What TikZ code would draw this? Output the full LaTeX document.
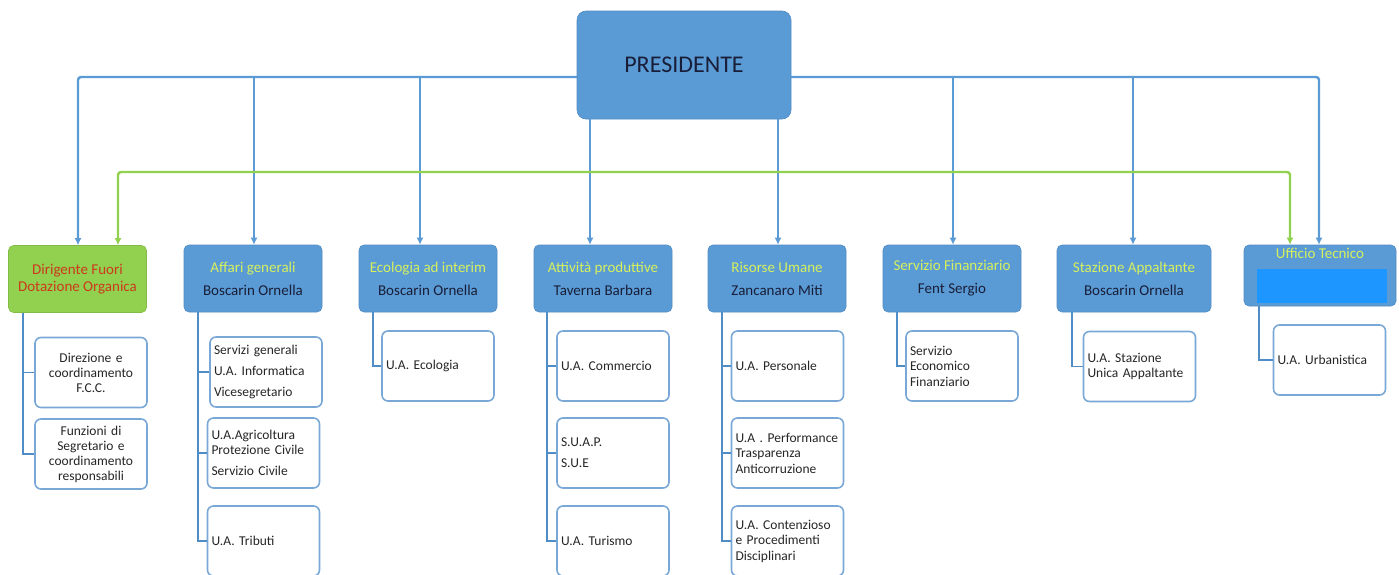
\documentclass[tikz,border=0pt]{standalone}
\usepackage{fontspec}
\setmainfont{Carlito}
\usetikzlibrary{positioning,arrows.meta,calc,backgrounds}
\definecolor{ocBlue}{RGB}{91,155,213}
\definecolor{ocEdge}{RGB}{80,140,198}
\definecolor{ocGreen}{RGB}{146,208,80}
\definecolor{ocLime}{RGB}{214,240,92}
\definecolor{ocRed}{RGB}{204,58,28}
\definecolor{ocNavy}{RGB}{24,30,56}
\definecolor{ocFrame}{RGB}{122,168,214}
\definecolor{ocSky}{RGB}{30,150,255}
\tikzset{
    base/.style={font=\fontsize{15}{18}\selectfont, align=center, inner sep=2pt},
    chief/.style={base, rectangle, rounded corners=9pt, fill=ocBlue, draw=ocEdge, line width=0.6pt,
                  text=ocNavy, minimum width=214pt, minimum height=108pt, font=\fontsize{24}{28}\selectfont},
    head/.style={base, rectangle, rounded corners=5pt, fill=ocBlue, draw=ocEdge, line width=0.6pt,
                 text=ocNavy, minimum width=138pt, minimum height=67pt},
    extra/.style={head, fill=ocGreen, draw=ocGreen!90!black, text=ocRed, font=\fontsize{15}{16.5}\selectfont},
    office/.style={base, rectangle, rounded corners=6pt, draw=ocFrame, line width=1.6pt, fill=white,
                   minimum width=112pt, minimum height=70pt, text width=104pt, align=left,
                   inner xsep=3pt, text=black!85, font=\fontsize{13.5}{15.5}\selectfont},
    flow/.style={->, >={Latex[length=7pt,width=7pt]}, line width=2.4pt, color=ocBlue},
    gflow/.style={flow, color=ocGreen},
    branch/.style={line width=1.8pt, color=ocEdge}
}

\begin{document}
\begin{tikzpicture}[x=1pt, y=-1pt]
  \useasboundingbox (0,0) rectangle (1399,574);
  \clip (0,0) rectangle (1399,574);

  % President
  \node[chief] (pres) at (684,65) {PRESIDENTE};

  % Sectors
  \node[extra] (dir) at (77.5,279) {Dirigente Fuori\\Dotazione Organica};
  \node[head] (aff) at (253,278.5) {\textcolor{ocLime}{Affari generali}\\[5pt]Boscarin Ornella};
  \node[head] (eco) at (428,278.5) {\textcolor{ocLime}{Ecologia ad interim}\\[5pt]Boscarin Ornella};
  \node[head] (att) at (603,278.5) {\textcolor{ocLime}{Attività produttive}\\[5pt]Taverna Barbara};
  \node[head] (ris) at (777,278.5) {\textcolor{ocLime}{Risorse Umane}\\[5pt]Zancanaro Miti};
  \node[head] (fin) at (952,278.5) {\textcolor{ocLime}{Servizio Finanziario}\\[5pt]Fent Sergio};
  \node[head, minimum width=154pt] (sta) at (1134,278.5) {\textcolor{ocLime}{Stazione Appaltante}\\[5pt]Boscarin Ornella};
  \node[head, minimum width=152pt, minimum height=61pt,
        label={[text=ocLime, anchor=north, font=\fontsize{15}{18}\selectfont, inner sep=2pt, yshift=-1pt]north:Ufficio Tecnico}]
        (uff) at (1320,275.5) {};
  \node[rectangle, fill=ocSky, minimum width=130pt, minimum height=34pt, inner sep=0pt] (uffname) at (1322,286) {};

  % Offices
  \node[office, align=center, font=\fontsize{13.5}{15}\selectfont] (d1) at (91,372.5) {Direzione e\\coordinamento\\F.C.C.};
  \node[office, align=center, font=\fontsize{13.5}{15}\selectfont] (d2) at (91,454) {Funzioni di\\Segretario e\\coordinamento\\responsabili};
  \node[office] (a1) at (266,372) {Servizi generali\\[5.5pt]U.A. Informatica\\[5.5pt]Vicesegretario};
  \node[office] (a2) at (263.5,453) {U.A.Agricoltura\\Protezione Civile\\[5.5pt]Servizio Civile};
  \node[office] (a3) at (263.5,541) {U.A. Tributi};
  \node[office] (e1) at (438,366) {U.A. Ecologia};
  \node[office] (t1) at (613,366) {U.A. Commercio};
  \node[office] (t2) at (613,453) {S.U.A.P.\\[5.5pt]S.U.E};
  \node[office] (t3) at (613,541) {U.A. Turismo};
  \node[office] (r1) at (787.5,366) {U.A. Personale};
  \node[office] (r2) at (787.5,453) {U.A . Performance\\Trasparenza\\Anticorruzione};
  \node[office] (r3) at (787.5,541) {U.A. Contenzioso\\e Procedimenti\\Disciplinari};
  \node[office] (f1) at (962,366) {Servizio\\Economico\\Finanziario};
  \node[office] (s1) at (1139.5,366.5) {U.A. Stazione\\Unica Appaltante};
  \node[office] (u1) at (1329.5,360) {U.A. Urbanistica};

  % Buses
  \coordinate (bus) at (684,77);
  \coordinate (gbus) at (684,172);
  \begin{scope}[on background layer]
    \draw[flow, <->, rounded corners=3pt] ($(dir.north)+(0.5,0)$) |- (bus) -| ($(uff.north)+(-1,0)$);
  \end{scope}
  \foreach \n/\dx in {aff/1, eco/-8, fin/1, sta/-1}
    \draw[flow] ($(\n.north |- bus)+(\dx,0)$) -- ($(\n.north)+(\dx,0)$);
  \foreach \n/\dx in {att/-13, ris/1}
    \draw[flow] ($(\n.north |- pres.south)+(\dx,0)$) -- ($(\n.north)+(\dx,0)$);
  \draw[gflow, <->, rounded corners=3pt] ($(dir.north)+(40.5,0)$) |- (gbus) -| ($(uff.north)+(-30,0)$);

  % Branches
  \foreach \p/\dx/\c in {dir/-54.5/d1, dir/-54.5/d2, aff/-55/a1, aff/-55/a2, aff/-55/a3,
                         eco/-55/e1, att/-56/t1, att/-56/t2, att/-56/t3,
                         ris/-55/r1, ris/-55/r2, ris/-55/r3, fin/-55/f1,
                         sta/-62/s1, uff/-61/u1}
    \draw[branch] ($(\p.south)+(\dx,0)$) |- (\c.west);
\end{tikzpicture}
\end{document}
